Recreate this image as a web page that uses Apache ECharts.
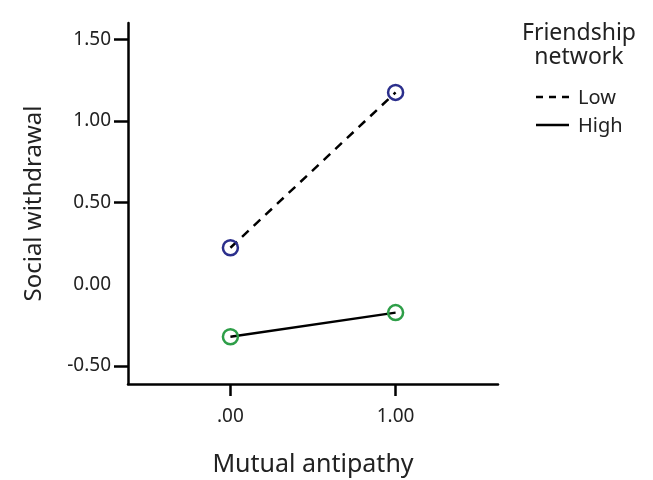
<!DOCTYPE html>
<html><head><meta charset="utf-8">
<script src="https://cdn.jsdelivr.net/npm/echarts@6/dist/echarts.min.js"></script>
<style>html,body{margin:0;padding:0;background:#fff}#c{width:653px;height:480px}</style>
</head><body><div id="c"></div>
<script>
const xValues = [0, 1];
const xTickLabels = ['.00', '1.00'];
const yTickValues = [-0.5, 0, 0.5, 1, 1.5];
const yTickMarks = [-0.5, 0.5, 1, 1.5];
const lowValues = [0.224, 1.175];
const highValues = [-0.321, -0.173];
const seriesNames = ['Low', 'High'];
const legendTitle = ['Friendship', 'network'];
const xTitle = 'Mutual antipathy';
const yTitle = 'Social withdrawal';

const FONT = 'Noto Sans';
const chart = echarts.init(document.getElementById('c'), null, {renderer: 'canvas'});
const mk = (vals) => xValues.map((x, i) => [x, vals[i]]);
const option = {
  backgroundColor: '#fff',
  animation: false,
  grid: {left: 128, top: 23, width: 370, height: 361, containLabel: false, outerBoundsMode: 'none'},
  xAxis: {
    type: 'value', min: -0.62, max: 1.62,
    name: xTitle, nameLocation: 'middle', nameGap: 68,
    nameTextStyle: {fontFamily: FONT, fontSize: 25, color: '#222'},
    axisLine: {show: true, onZero: false, lineStyle: {color: '#000', width: 2.5}},
    axisTick: {show: true, length: 12, lineStyle: {color: '#000', width: 2.5}, customValues: xValues},
    axisLabel: {customValues: xValues, margin: 23, fontFamily: FONT, fontSize: 19, color: '#222',
      formatter: v => xTickLabels[xValues.indexOf(v)] ?? ''},
    splitLine: {show: false}
  },
  yAxis: {
    type: 'value', min: -0.61, max: 1.6,
    name: yTitle, nameLocation: 'middle', nameGap: 82, nameRotate: 90,
    nameTextStyle: {fontFamily: FONT, fontSize: 24, color: '#222'},
    axisLine: {show: true, onZero: false, lineStyle: {color: '#000', width: 2.5}},
    axisTick: {show: true, length: 14, lineStyle: {color: '#000', width: 2.5}, customValues: yTickMarks},
    axisLabel: {customValues: yTickValues, margin: 17, fontFamily: FONT, fontSize: 19, color: '#222',
      formatter: v => v.toFixed(2)},
    splitLine: {show: false}
  },
  series: [
    {name: seriesNames[0], type: 'line', data: mk(lowValues), symbol: 'circle', symbolSize: 15,
     lineStyle: {color: '#000', width: 2.5, type: [9, 7]},
     itemStyle: {color: 'rgba(255,255,255,0)', borderColor: '#2b2f8c', borderWidth: 2.5}},
    {name: seriesNames[1], type: 'line', data: mk(highValues), symbol: 'circle', symbolSize: 15,
     lineStyle: {color: '#000', width: 2.5},
     itemStyle: {color: 'rgba(255,255,255,0)', borderColor: '#2e9e48', borderWidth: 2.5}}
  ],
  graphic: [
    {type: 'text', style: {text: legendTitle.join('\n'), x: 579, y: 21,
      textAlign: 'center', font: '23px ' + FONT, fill: '#222', lineHeight: 24}},
    {type: 'line', shape: {x1: 536, y1: 97, x2: 569, y2: 97}, style: {stroke: '#000', lineWidth: 2.5, lineDash: [7, 6]}},
    {type: 'text', style: {text: seriesNames[0], x: 578, y: 98, textVerticalAlign: 'middle', font: '20px ' + FONT, fill: '#222'}},
    {type: 'line', shape: {x1: 536, y1: 125, x2: 569, y2: 125}, style: {stroke: '#000', lineWidth: 2.5}},
    {type: 'text', style: {text: seriesNames[1], x: 578, y: 126, textVerticalAlign: 'middle', font: '20px ' + FONT, fill: '#222'}}
  ]
};
chart.setOption(option);
</script></body></html>
